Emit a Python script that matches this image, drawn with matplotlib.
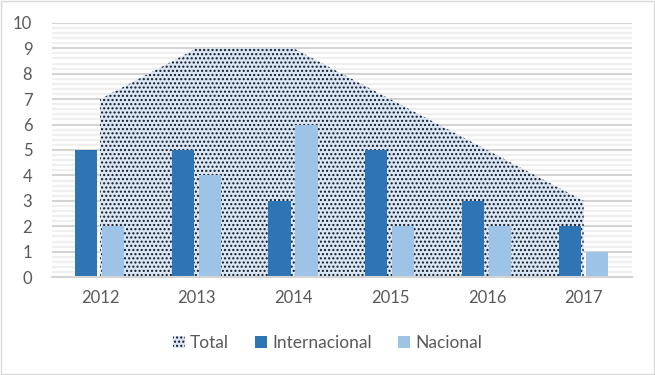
import matplotlib
matplotlib.use("Agg")
import matplotlib.pyplot as plt
from matplotlib.patches import Patch
from matplotlib.ticker import MultipleLocator
import numpy as np

years = ["2012", "2013", "2014", "2015", "2016", "2017"]
total = [7, 9, 9, 7, 5, 3]
internacional = [5, 5, 3, 5, 3, 2]
nacional = [2, 4, 6, 2, 2, 1]

plt.rcParams['font.family'] = ['Lato', 'DejaVu Sans']
plt.rcParams['hatch.color'] = '#101828'
plt.rcParams['hatch.linewidth'] = 1.0

txt = '#595959'
c_int = '#2e75b6'
c_nac = '#9dc3e6'
c_area = '#dbe6f4'

fig = plt.figure(figsize=(6.55, 3.75), dpi=100)
ax = fig.add_axes([0.079, 0.261, 0.886, 0.678])
x = np.arange(len(years))

ax.fill_between(x, total, 0, facecolor=c_area, hatch='....', edgecolor='#101828',
                linewidth=0, zorder=1, label='Total')
w = 0.23
ax.bar(x - 0.145, internacional, width=w, color=c_int, zorder=2, label='Internacional')
ax.bar(x + 0.135, nacional, width=w, color=c_nac, zorder=2, label='Nacional')

ax.set_xlim(-0.5, 5.5)
ax.set_ylim(0, 10)
ax.set_xticks(x)
ax.set_xticklabels(years)
ax.yaxis.set_major_locator(MultipleLocator(1))
ax.yaxis.set_minor_locator(MultipleLocator(0.2))
ax.set_axisbelow(True)
ax.grid(axis='y', which='minor', color='#efefef', linewidth=1.6)
ax.grid(axis='y', which='major', color='#d4d4d4', linewidth=1.5)
for s in ['top', 'right', 'left']:
    ax.spines[s].set_visible(False)
ax.spines['bottom'].set_color('#d4d4d4')
ax.spines['bottom'].set_linewidth(1.5)
ax.tick_params(axis='both', which='both', length=0, colors=txt, labelsize=12)
ax.tick_params(axis='y', pad=14)
ax.tick_params(axis='x', pad=9)

handles = [Patch(facecolor=c_area, hatch='....', edgecolor='#101828', linewidth=0),
           Patch(facecolor=c_int), Patch(facecolor=c_nac)]
fig.legend(handles, ['Total', 'Internacional', 'Nacional'], loc='center',
           bbox_to_anchor=(0.5, 1 - 343 / 375), ncol=3, frameon=False,
           fontsize=12.5, labelcolor=txt, handlelength=0.7, handleheight=0.7,
           handletextpad=0.3, columnspacing=1.5)

fig.patches.append(plt.Rectangle((0.001, 0.002), 0.997, 0.995, transform=fig.transFigure,
                                 fill=False, edgecolor='#d9d9d9', linewidth=1))
fig.savefig('out.png', dpi=100)
